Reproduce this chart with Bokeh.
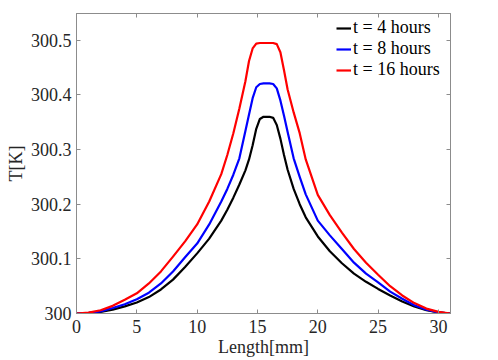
from bokeh.plotting import figure
from bokeh.models import LinearAxis, FixedTicker, CustomJSTickFormatter, Range1d
from bokeh.embed import file_html
from bokeh.resources import INLINE

# ---- data ----
length_mm = [0, 1, 2, 3, 4, 5, 6, 7, 8, 9, 10, 11, 12, 12.5, 13, 13.5, 14, 14.3, 14.6, 14.9,
             15.2, 15.5, 16.0, 16.3, 16.6, 16.9, 17.2, 17.5, 18, 18.5, 19, 20, 21, 22, 23,
             24, 25, 26, 27, 28, 29, 30, 31]
T_4h = [300.0, 300.0008, 300.003, 300.007, 300.013, 300.020, 300.030, 300.044, 300.062, 300.085,
        300.110, 300.137, 300.170, 300.190, 300.212, 300.236, 300.262, 300.282, 300.308, 300.338,
        300.356, 300.360, 300.360, 300.358, 300.345, 300.320, 300.290, 300.263, 300.228, 300.200,
        300.176, 300.141, 300.114, 300.092, 300.073, 300.058, 300.045, 300.033, 300.022, 300.013,
        300.006, 300.002, 300.0]
T_8h = [300.0, 300.001, 300.004, 300.010, 300.017, 300.026, 300.038, 300.055, 300.077, 300.103,
        300.128, 300.163, 300.205, 300.228, 300.254, 300.284, 300.334, 300.364, 300.394, 300.414,
        300.420, 300.421, 300.421, 300.420, 300.412, 300.390, 300.362, 300.332, 300.284, 300.250,
        300.218, 300.170, 300.143, 300.118, 300.093, 300.073, 300.057, 300.040, 300.027, 300.015,
        300.007, 300.002, 300.0]
T_16h = [300.0, 300.0015, 300.006, 300.014, 300.025, 300.037, 300.055, 300.077, 300.104, 300.132,
         300.163, 300.205, 300.255, 300.290, 300.330, 300.375, 300.425, 300.462, 300.485, 300.494,
         300.495, 300.495, 300.495, 300.495, 300.493, 300.478, 300.445, 300.410, 300.368, 300.330,
         300.282, 300.217, 300.180, 300.148, 300.118, 300.093, 300.071, 300.050, 300.033, 300.019,
         300.009, 300.003, 300.0]

series_labels = ["t = 4 hours", "t = 8 hours", "t = 16 hours"]
series_colors = ["#000000", "#0000ff", "#ff0000"]

x_ticks = [0, 5, 10, 15, 20, 25, 30]
y_ticks = [300.0, 300.1, 300.2, 300.3, 300.4, 300.5]

FONT = "Liberation Serif"
AX_COLOR = "#8c8c8c"
TXT_COLOR = "#262626"

p = figure(width=498, height=360, output_backend="svg", toolbar_location=None,
           x_range=Range1d(0, 31), y_range=Range1d(300.0, 300.549),
           min_border_left=76, min_border_right=48, min_border_top=13, min_border_bottom=47)
p.background_fill_color = "white"
p.border_fill_color = "white"
p.outline_line_color = AX_COLOR
p.xgrid.visible = False
p.ygrid.visible = False

for ys, lab, col in zip([T_4h, T_8h, T_16h], series_labels, series_colors):
    p.line(length_mm, ys, line_color=col, line_width=2.2, line_join="round",
           legend_label=lab)

yfmt = CustomJSTickFormatter(code="return String(Math.round(tick*10)/10);")

def style_axis(ax, ticks, show_labels):
    ax.ticker = FixedTicker(ticks=ticks)
    ax.axis_line_color = AX_COLOR
    ax.major_tick_line_color = AX_COLOR
    ax.major_tick_in = 4
    ax.major_tick_out = 0
    ax.minor_tick_line_color = None
    ax.major_label_text_font = FONT
    ax.major_label_text_color = TXT_COLOR
    ax.axis_label_text_font = FONT
    ax.axis_label_text_font_style = "normal"
    ax.axis_label_text_color = TXT_COLOR
    ax.axis_label_text_font_size = "18px"
    if show_labels:
        ax.major_label_text_font_size = "18px"
    else:
        ax.major_label_text_font_size = "0px"
        ax.major_label_standoff = 0

xa = p.xaxis[0]
style_axis(xa, x_ticks, True)
xa.axis_label = "Length[mm]"
xa.major_label_standoff = 6
xa.axis_label_standoff = 1

ya = p.yaxis[0]
style_axis(ya, y_ticks, True)
ya.formatter = yfmt
ya.axis_label = "T[K]"
ya.major_label_standoff = 5
ya.axis_label_standoff = 2

top_ax = LinearAxis()
style_axis(top_ax, x_ticks, False)
p.add_layout(top_ax, "above")
right_ax = LinearAxis()
style_axis(right_ax, y_ticks, False)
p.add_layout(right_ax, "right")

lg = p.legend[0]
lg.location = (260, 233)
lg.border_line_color = None
lg.background_fill_alpha = 0
lg.padding = 0
lg.spacing = -2
lg.margin = 0
lg.glyph_width = 15
lg.glyph_height = 18
lg.label_height = 18
lg.label_standoff = 2
lg.label_text_font = FONT
lg.label_text_font_size = "18px"
lg.label_text_color = "#000000"

open("out.html", "w").write(file_html(p, INLINE))
